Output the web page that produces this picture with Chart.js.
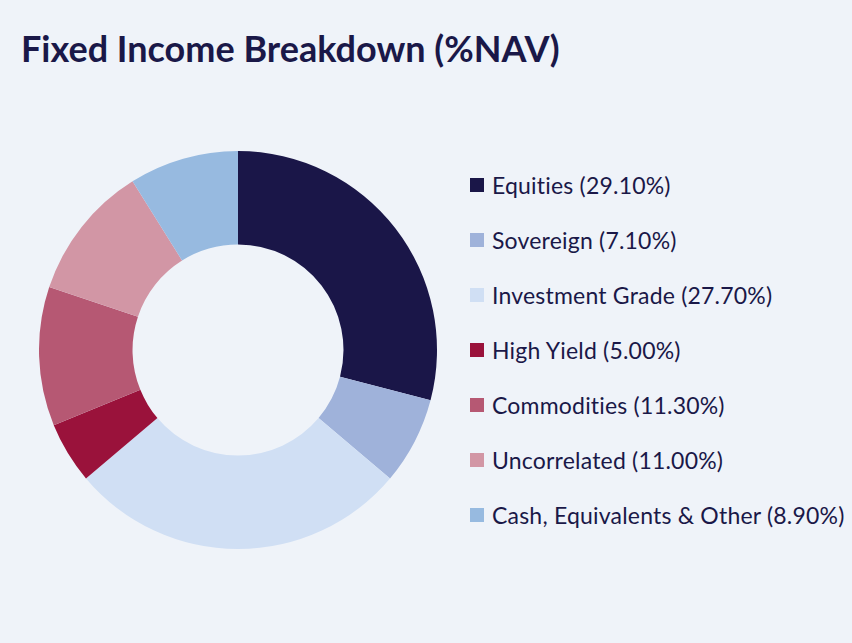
<!DOCTYPE html>
<html>
<head>
<meta charset="utf-8">
<script src="https://cdn.jsdelivr.net/npm/chart.js@4"></script>
<style>
  html, body { margin: 0; padding: 0; }
  body {
    width: 852px; height: 643px; background: #eff3f9; position: relative; overflow: hidden;
    font-family: "Source Sans Pro", Lato, "Noto Sans", sans-serif; color: #1a1848;
  }
  h1 {
    position: absolute; left: 21px; top: 30px; margin: 0;
    font-size: 36px; font-weight: 700; letter-spacing: 0px; line-height: 1;
  }
  #wrap { position: absolute; left: 39px; top: 151px; width: 398px; height: 398px; }
  #legend { position: absolute; left: 470px; top: 171px; margin: 0; padding: 0; list-style: none; }
  #legend li { height: 55px; display: flex; align-items: flex-start; font-size: 23px; letter-spacing: 0.2px; line-height: 28px; }
  #legend span.box { width: 14px; height: 14px; margin: 7px 8px 0 0; flex: none; }
</style>
</head>
<body>
<h1>Fixed Income Breakdown (%NAV)</h1>
<div id="wrap"><canvas id="fi-chart"></canvas></div>
<ul id="legend"></ul>
<script>
var categories = ['Equities', 'Sovereign', 'Investment Grade', 'High Yield', 'Commodities', 'Uncorrelated', 'Cash, Equivalents & Other'];
var weights = [29.10, 7.10, 27.70, 5.00, 11.30, 11.00, 8.90];
var colours = ['#1a1648', '#9fb2da', '#d0dff4', '#9a123b', '#b65873', '#d296a5', '#97bae0'];

document.addEventListener('DOMContentLoaded', function () {
  var ctx = document.getElementById('fi-chart').getContext('2d');
  var fiChart = new Chart(ctx, {
    type: 'doughnut',
    data: {
      labels: categories,
      datasets: [{
        data: weights,
        backgroundColor: colours,
        borderWidth: 0
      }]
    },
    options: {
      responsive: true,
      maintainAspectRatio: false,
      animation: false,
      cutout: '53%',
      layout: { padding: 0 },
      plugins: {
        legend: { display: false },
        tooltip: { enabled: false }
      }
    }
  });

  var legend = document.getElementById('legend');
  for (var i = 0; i < categories.length; i++) {
    var li = document.createElement('li');
    var box = document.createElement('span');
    box.className = 'box';
    box.style.background = colours[i];
    li.appendChild(box);
    li.appendChild(document.createTextNode(categories[i] + ' (' + weights[i].toFixed(2) + '%)'));
    legend.appendChild(li);
  }
});
</script>
</body>
</html>
